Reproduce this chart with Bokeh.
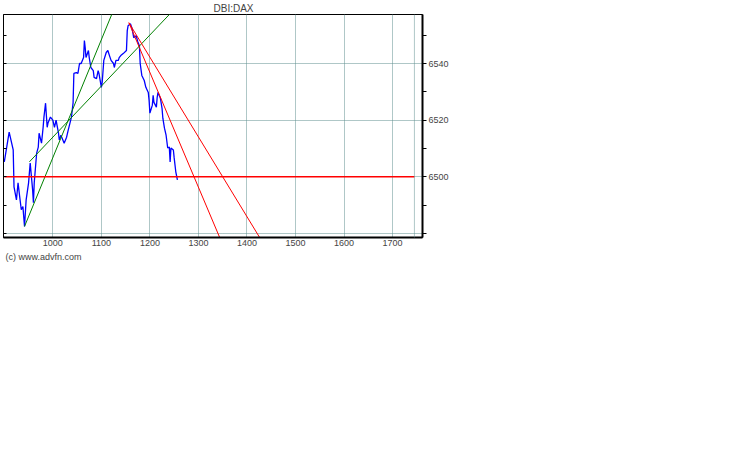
from bokeh.plotting import figure
from bokeh.models import (LinearAxis, FixedTicker, Title, Range1d, Span)
from bokeh.embed import file_html
from bokeh.resources import INLINE

# ---- data (time in minutes after midnight, price in index points) ----
price_time = [540, 546, 551, 552, 555, 557, 559, 561, 563, 565, 567, 570, 571, 572,
              575, 576, 577, 580, 582, 583, 586, 588, 589, 591, 593, 594, 597, 600,
              602, 604, 607, 608, 610, 614, 617, 619, 623, 625, 626, 629, 631, 633,
              635, 638, 639, 640, 641, 644, 645, 647, 650, 651, 654, 656, 657, 660,
              661, 663, 666, 668, 670, 672, 675, 676, 678, 681, 682, 684, 687, 691,
              692, 693, 696, 698, 700, 703, 705, 707, 708, 710, 713, 715, 718, 719,
              720, 723, 724, 725, 728, 729, 730, 733, 735, 736, 738, 740, 742, 744,
              745, 746, 749, 750, 752, 754]
price_value = [6505.3, 6515.8, 6509.5, 6496.5, 6491.9, 6497.9, 6493.0, 6488.4, 6489.5,
               6482.5, 6491.9, 6497.9, 6501.4, 6504.9, 6495.4, 6490.9, 6497.9, 6508.4,
               6510.5, 6515.4, 6511.9, 6517.5, 6521.1, 6526.0, 6517.5, 6519.0, 6521.1,
               6520.0, 6517.5, 6520.0, 6515.4, 6513.0, 6514.7, 6511.9, 6514.0, 6516.5,
               6521.1, 6526.0, 6536.5, 6536.8, 6536.5, 6540.0, 6540.0, 6542.1, 6548.1,
               6545.6, 6542.1, 6544.6, 6542.1, 6538.6, 6537.5, 6535.1, 6534.7, 6537.5,
               6536.5, 6531.6, 6533.3, 6541.1, 6543.9, 6544.6, 6542.8, 6541.1, 6540.0,
               6538.6, 6541.1, 6541.1, 6542.1, 6542.8, 6543.5, 6544.6, 6551.6, 6553.3,
               6554.0, 6552.3, 6549.1, 6549.8, 6547.7, 6546.3, 6540.0, 6535.8, 6534.0,
               6531.6, 6529.8, 6527.0, 6522.5, 6525.3, 6528.8, 6526.3, 6524.6, 6528.1,
               6529.8, 6527.7, 6524.2, 6520.7, 6517.2, 6514.7, 6510.2, 6510.5, 6505.3,
               6510.2, 6509.5, 6506.7, 6501.8, 6498.9]

# trend lines (start point, end point)
green_steep_x = [565, 680]
green_steep_y = [6482.5, 6562.3]
green_shallow_x = [571, 760]
green_shallow_y = [6505.3, 6562.1]
red_steep_x = [694, 819]
red_steep_y = [6554.4, 6470.0]
red_shallow_x = [694, 874]
red_shallow_y = [6554.4, 6470.0]
support_level = 6500
session_start = 540
session_end = 1047

x_ticks = [600, 660, 720, 780, 840, 900, 960, 1020]
x_tick_labels = ["1000", "1100", "1200", "1300", "1400", "1500", "1600", "1700"]
y_ticks = [6480, 6500, 6520, 6540]
y_tick_labels = ["", "6500", "6520", "6540"]
y_minor_ticks = [6490, 6510, 6530, 6550]

FONT = "Liberation Sans"
GRID = "#5f8f8f"

p = figure(frame_width=419, frame_height=223, output_backend="svg",
           toolbar_location=None, x_range=Range1d(539, 1057),
           y_range=Range1d(6478.6, 6557.3), y_axis_location="right",
           min_border_left=3, min_border_right=0, min_border_top=0,
           min_border_bottom=0, background_fill_color="white",
           border_fill_color="white")

p.title.text = "DBI:DAX"
p.title.align = "left"
p.title.offset = 210
p.title.text_font = FONT
p.title.text_font_size = "10px"
p.title.text_font_style = "normal"
p.title.standoff = 1

p.outline_line_color = "black"
p.outline_line_width = 1

# axes
xa = p.xaxis[0]
xa.ticker = FixedTicker(ticks=x_ticks)
xa.major_label_overrides = {t: l for t, l in zip(x_ticks, x_tick_labels)}
xa.major_tick_line_color = None
xa.minor_tick_line_color = None
xa.major_tick_out = 0
xa.minor_tick_out = 0
xa.major_tick_in = 0
xa.axis_line_color = "black"
xa.axis_line_width = 2
xa.major_label_text_font = FONT
xa.major_label_text_font_size = "9px"
xa.major_label_standoff = 2

ya = p.yaxis[0]
ya.ticker = FixedTicker(ticks=y_ticks, minor_ticks=y_minor_ticks)
ya.major_label_overrides = {t: l for t, l in zip(y_ticks, y_tick_labels)}
ya.major_tick_in = 0
ya.major_tick_out = 4
ya.minor_tick_in = 0
ya.minor_tick_out = 4
ya.axis_line_width = 2
ya.major_label_text_font = FONT
ya.major_label_text_font_size = "9px"
ya.major_label_standoff = 2

la = LinearAxis(ticker=FixedTicker(ticks=y_ticks + y_minor_ticks))
la.major_label_overrides = {t: "" for t in y_ticks + y_minor_ticks}
la.major_tick_in = 3
la.major_tick_out = 0
la.minor_tick_line_color = None
la.major_label_standoff = 0
la.major_label_text_font_size = "1px"
p.add_layout(la, "left")

# grids
p.xgrid.ticker = FixedTicker(ticks=x_ticks)
p.ygrid.ticker = FixedTicker(ticks=y_ticks)
for g in (p.xgrid[0], p.ygrid[0]):
    g.grid_line_color = GRID
    g.grid_line_dash = "1 1"
    g.grid_line_width = 1
p.add_layout(Span(location=session_end, dimension="height", line_color=GRID,
                  line_dash="1 1", line_width=1))

# copyright note
p.add_layout(Title(text="(c) www.advfn.com", align="left", text_font=FONT,
                   text_font_size="9px", text_font_style="normal", offset=2,
                   standoff=3), "below")

# marks
p.line(price_time, price_value, color="#0000ff", line_width=1.3)
p.line(green_steep_x, green_steep_y, color="#008000", line_width=1)
p.line(green_shallow_x, green_shallow_y, color="#008000", line_width=1)
p.line(red_steep_x, red_steep_y, color="#ff0000", line_width=1)
p.line(red_shallow_x, red_shallow_y, color="#ff0000", line_width=1)
p.line([session_start, session_end], [support_level, support_level],
       color="#ff0000", line_width=1.5)

open("out.html", "w").write(file_html(p, INLINE))
